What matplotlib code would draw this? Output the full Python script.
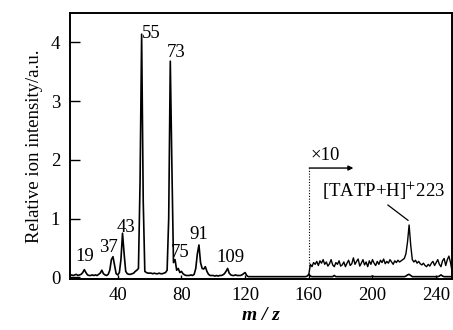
import matplotlib
matplotlib.use("Agg")
import matplotlib.pyplot as plt

plt.rcParams['font.family'] = ['Liberation Serif', 'DejaVu Serif']
plt.rcParams['mathtext.fontset'] = 'stix'

# m/z grid of the main trace (unit resolution)
mz_main = list(range(10, 251))
int_main = [
    0.03, 0.04, 0.03, 0.04, 0.05, 0.03, 0.04, 0.05, 0.08, 0.13,   # 10-19
    0.08, 0.04, 0.03, 0.03, 0.04, 0.03, 0.04, 0.03, 0.05, 0.07,   # 20-29
    0.12, 0.06, 0.04, 0.03, 0.05, 0.12, 0.30, 0.35, 0.20, 0.06,   # 30-39
    0.04, 0.08, 0.30, 0.75, 0.40, 0.10, 0.06, 0.05, 0.05, 0.06,   # 40-49
    0.07, 0.10, 0.12, 0.15, 1.60, 4.14, 1.30, 0.10, 0.08, 0.07,   # 50-59
    0.07, 0.07, 0.06, 0.07, 0.06, 0.06, 0.07, 0.06, 0.06, 0.07,   # 60-69
    0.08, 0.12, 1.00, 3.68, 1.90, 0.25, 0.30, 0.12, 0.15, 0.08,   # 70-79
    0.10, 0.06, 0.04, 0.03, 0.03, 0.03, 0.04, 0.03, 0.05, 0.15,   # 80-89
    0.40, 0.55, 0.25, 0.15, 0.14, 0.18, 0.10, 0.05, 0.03, 0.03,   # 90-99
    0.03, 0.02, 0.03, 0.02, 0.03, 0.03, 0.04, 0.06, 0.10, 0.15,   # 100-109
    0.07, 0.04, 0.03, 0.03, 0.04, 0.03, 0.03, 0.03, 0.04, 0.06,   # 110-119
    0.08, 0.03, 0.01, 0.01, 0.01, 0.01, 0.01, 0.01, 0.01, 0.01,   # 120-129
    0.01, 0.01, 0.01, 0.01, 0.01, 0.01, 0.01, 0.01, 0.01, 0.01,   # 130-139
    0.01, 0.01, 0.01, 0.01, 0.01, 0.01, 0.01, 0.01, 0.01, 0.01,   # 140-149
    0.01, 0.01, 0.01, 0.01, 0.01, 0.01, 0.01, 0.01, 0.01, 0.02,   # 150-159
    0.05, 0.02, 0.01, 0.01, 0.01, 0.01, 0.01, 0.01, 0.01, 0.01,   # 160-169
    0.01, 0.01, 0.01, 0.01, 0.01, 0.01, 0.03, 0.01, 0.01, 0.01,   # 170-179
    0.01, 0.01, 0.01, 0.01, 0.01, 0.01, 0.01, 0.01, 0.01, 0.01,   # 180-189
    0.01, 0.01, 0.01, 0.01, 0.01, 0.01, 0.01, 0.01, 0.01, 0.01,   # 190-199
    0.02, 0.01, 0.01, 0.01, 0.01, 0.01, 0.01, 0.01, 0.01, 0.01,   # 200-209
    0.01, 0.01, 0.01, 0.01, 0.01, 0.01, 0.01, 0.01, 0.01, 0.01,   # 210-219
    0.01, 0.02, 0.04, 0.05, 0.03, 0.01, 0.01, 0.01, 0.01, 0.01,   # 220-229
    0.01, 0.01, 0.01, 0.01, 0.01, 0.01, 0.01, 0.01, 0.01, 0.01,   # 230-239
    0.01, 0.01, 0.02, 0.04, 0.02, 0.01, 0.01, 0.01, 0.01, 0.01,   # 240-249
    0.01,                                                         # 250
]

# x10 magnified trace
mz_x10 = list(range(160, 251))
int_x10 = [
    0.05, 0.22, 0.18, 0.25, 0.22, 0.27, 0.20, 0.28, 0.24, 0.30,   # 160-169
    0.22, 0.26, 0.19, 0.23, 0.30, 0.21, 0.18, 0.25, 0.22, 0.28,   # 170-179
    0.19, 0.21, 0.26, 0.18, 0.24, 0.29, 0.20, 0.23, 0.33, 0.22,   # 180-189
    0.27, 0.31, 0.19, 0.24, 0.30, 0.21, 0.26, 0.18, 0.28, 0.22,   # 190-199
    0.30, 0.24, 0.20, 0.27, 0.22, 0.29, 0.25, 0.31, 0.23, 0.27,   # 200-209
    0.24, 0.30, 0.26, 0.22, 0.28, 0.25, 0.29, 0.26, 0.28, 0.30,   # 210-219
    0.32, 0.40, 0.60, 0.89, 0.55, 0.30, 0.26, 0.29, 0.24, 0.27,   # 220-229
    0.23, 0.21, 0.24, 0.20, 0.18, 0.22, 0.19, 0.24, 0.27, 0.20,   # 230-239
    0.25, 0.30, 0.22, 0.18, 0.28, 0.32, 0.20, 0.30, 0.36, 0.25,   # 240-249
    0.10,                                                         # 250
]

# peak labels: (text, x, y)
peak_labels = ["19", "37", "43", "55", "73", "75", "91", "109"]
peak_label_x = [19.4, 34.2, 44.9, 61.0, 76.8, 79.3, 91.0, 110.5]
peak_label_y = [0.36, 0.50, 0.84, 4.15, 3.83, 0.43, 0.72, 0.34]

x_ticks = [40, 80, 120, 160, 200, 240]
y_ticks = [0, 1, 2, 3, 4]

fig = plt.figure(figsize=(4.53, 3.30), dpi=100)
ax = fig.add_axes([0.1545, 0.1545, 0.8435, 0.806])

ax.plot(mz_main, int_main, color='black', lw=1.2)
ax.plot(mz_x10, int_x10, color='black', lw=1.0)

for t, x, y in zip(peak_labels, peak_label_x, peak_label_y):
    ax.text(x, y, t, ha='center', va='center', fontsize=13.5)

# x10 marker
ax.plot([160, 160], [0.0, 1.86], color='black', lw=0.8, ls=(0, (1, 1.5)))
ax.annotate('', xy=(188, 1.86), xytext=(160.3, 1.86),
            arrowprops=dict(arrowstyle='-|>', color='black', lw=1.0,
                            mutation_scale=7, shrinkA=0, shrinkB=0))
ax.text(161.0, 1.93, '×10', ha='left', va='bottom', fontsize=13.5)

ax.text(168.5, 1.47, '[TATP+H]$^{+}$223', ha='left', va='center', fontsize=13.5)
ax.plot([209.7, 222.3], [1.23, 0.97], color='black', lw=0.9)

ax.set_xlim(10, 250)
ax.set_ylim(-0.03, 4.5)
ax.set_xticks(x_ticks)
ax.set_yticks(y_ticks)
ax.tick_params(axis='y', direction='in', length=7, width=1, labelsize=13.5, pad=7)
ax.tick_params(axis='x', direction='in', length=3, width=1, labelsize=13.5, pad=6)
for s in ax.spines.values():
    s.set_linewidth(1.4)

ax.set_ylabel('Relative ion intensity/a.u.', fontsize=13.5, labelpad=6)
ax.set_xlabel('m / z', fontsize=14, style='italic', fontweight='bold', labelpad=2)

fig.savefig('out.png', dpi=100)
